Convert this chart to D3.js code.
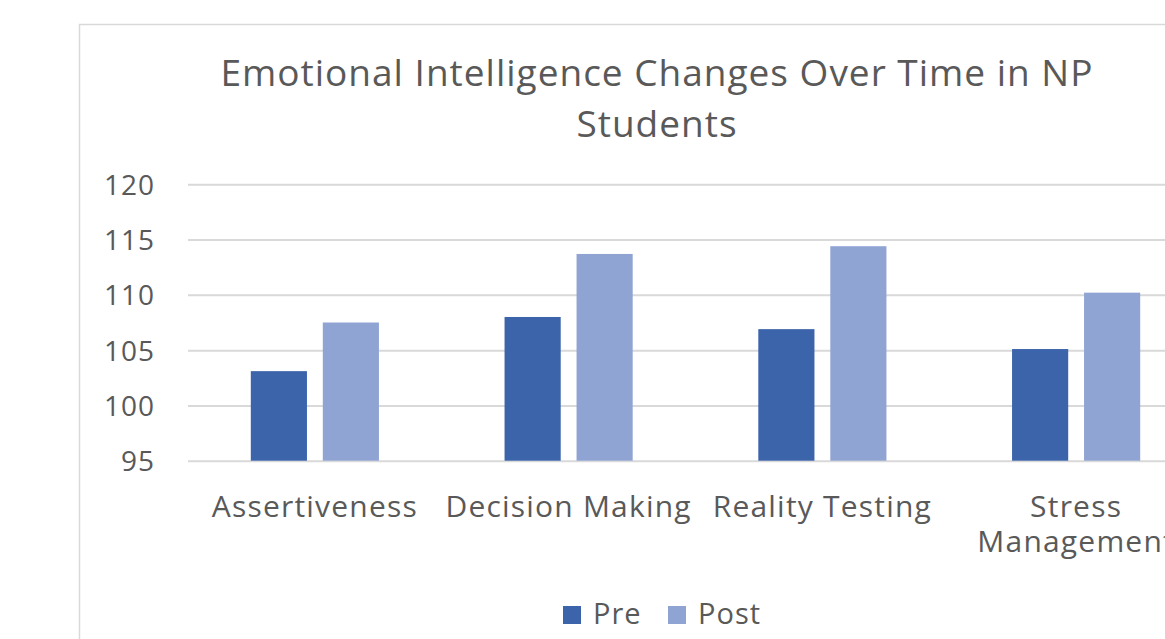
<!DOCTYPE html>
<html>
<head>
<meta charset="utf-8">
<script src="https://cdn.jsdelivr.net/npm/d3@7"></script>
<style>
  body { margin: 0; background: #fff; }
  svg { display: block; font-family: "Open Sans", sans-serif; }
</style>
</head>
<body>
<div id="chart"></div>
<script>
var categories = ['Assertiveness', 'Decision Making', 'Reality Testing', 'Stress Management'];
var seriesNames = ['Pre', 'Post'];
var preValues = [103.1, 108.0, 106.9, 105.1];
var postValues = [107.5, 113.7, 114.4, 110.2];
var yTicks = [95, 100, 105, 110, 115, 120];

var width = 1165;
var height = 639;
var color = d3.scaleOrdinal()
    .domain(seriesNames)
    .range(['#3c64ab', '#90a4d4']);

var svg = d3.select('#chart')
    .append('svg')
    .attr('width', width)
    .attr('height', height);

// chart frame, runs past the right and bottom edge
svg.append('rect')
    .attr('x', 79.5)
    .attr('y', 24.5)
    .attr('width', 1200)
    .attr('height', 700)
    .attr('fill', 'none')
    .attr('stroke', '#d9d9d9')
    .attr('stroke-width', 1.5);

var title = svg.append('text')
    .attr('text-anchor', 'middle')
    .attr('fill', '#595959')
    .style('font-size', '37px')
    .style('letter-spacing', '1px');
title.append('tspan').attr('x', 657).attr('y', 86)
    .text('Emotional Intelligence Changes Over Time in NP');
title.append('tspan').attr('x', 657).attr('y', 137)
    .text('Students');

var x0 = d3.scaleBand()
    .domain(categories)
    .range([188, 1203])
    .paddingInner(0.495)
    .paddingOuter(0.2475);

var x1 = d3.scaleBand()
    .domain(seriesNames)
    .range([0, x0.bandwidth()])
    .paddingInner(0.22);

var y = d3.scaleLinear()
    .domain([95, 120])
    .range([460.7, 184.3]);

var yAxis = svg.append('g')
    .attr('transform', 'translate(188,0)')
    .call(d3.axisLeft(y).tickValues(yTicks).tickSize(-1100).tickPadding(33));
yAxis.select('.domain').remove();
yAxis.selectAll('.tick line')
    .attr('stroke', '#d9d9d9')
    .attr('stroke-width', 2);
yAxis.selectAll('.tick text')
    .attr('fill', '#595959')
    .attr('dy', '0.36em')
    .style('font-family', '"Open Sans", sans-serif')
    .style('font-size', '28px')
    .style('letter-spacing', '1px');

var groups = svg.selectAll('.group')
    .data(categories)
    .enter()
    .append('g')
    .attr('class', 'group')
    .attr('transform', function (d) {
        return 'translate(' + x0(d) + ',0)';
    });

groups.selectAll('rect')
    .data(function (d, i) {
        return [
            { series: 'Pre', value: preValues[i] },
            { series: 'Post', value: postValues[i] }
        ];
    })
    .enter()
    .append('rect')
    .attr('x', function (d) { return x1(d.series); })
    .attr('y', function (d) { return y(d.value); })
    .attr('width', x1.bandwidth())
    .attr('height', function (d) { return y(95) - y(d.value); })
    .attr('fill', function (d) { return color(d.series); });

// category labels, wrapped like the original
var catLines = {
    'Assertiveness': ['Assertiveness'],
    'Decision Making': ['Decision Making'],
    'Reality Testing': ['Reality Testing'],
    'Stress Management': ['Stress', 'Management']
};
var catText = svg.selectAll('.cat')
    .data(categories)
    .enter()
    .append('text')
    .attr('class', 'cat')
    .attr('text-anchor', 'middle')
    .attr('fill', '#595959')
    .style('font-size', '30px')
    .style('letter-spacing', '1.2px');
catText.each(function (d) {
    var t = d3.select(this);
    catLines[d].forEach(function (line, i) {
        t.append('tspan')
            .attr('x', x0(d) + x0.bandwidth() / 2)
            .attr('y', 517 + i * 35)
            .text(line);
    });
});

// legend
var legendX = [563, 668];
var legend = svg.selectAll('.legend')
    .data(seriesNames)
    .enter()
    .append('g')
    .attr('class', 'legend')
    .attr('transform', function (d, i) {
        return 'translate(' + legendX[i] + ',606)';
    });
legend.append('rect')
    .attr('width', 18)
    .attr('height', 18)
    .attr('fill', color);
legend.append('text')
    .attr('x', 30)
    .attr('y', 18)
    .attr('fill', '#595959')
    .style('font-size', '29px')
    .style('letter-spacing', '1px')
    .text(function (d) { return d; });
</script>
</body>
</html>
